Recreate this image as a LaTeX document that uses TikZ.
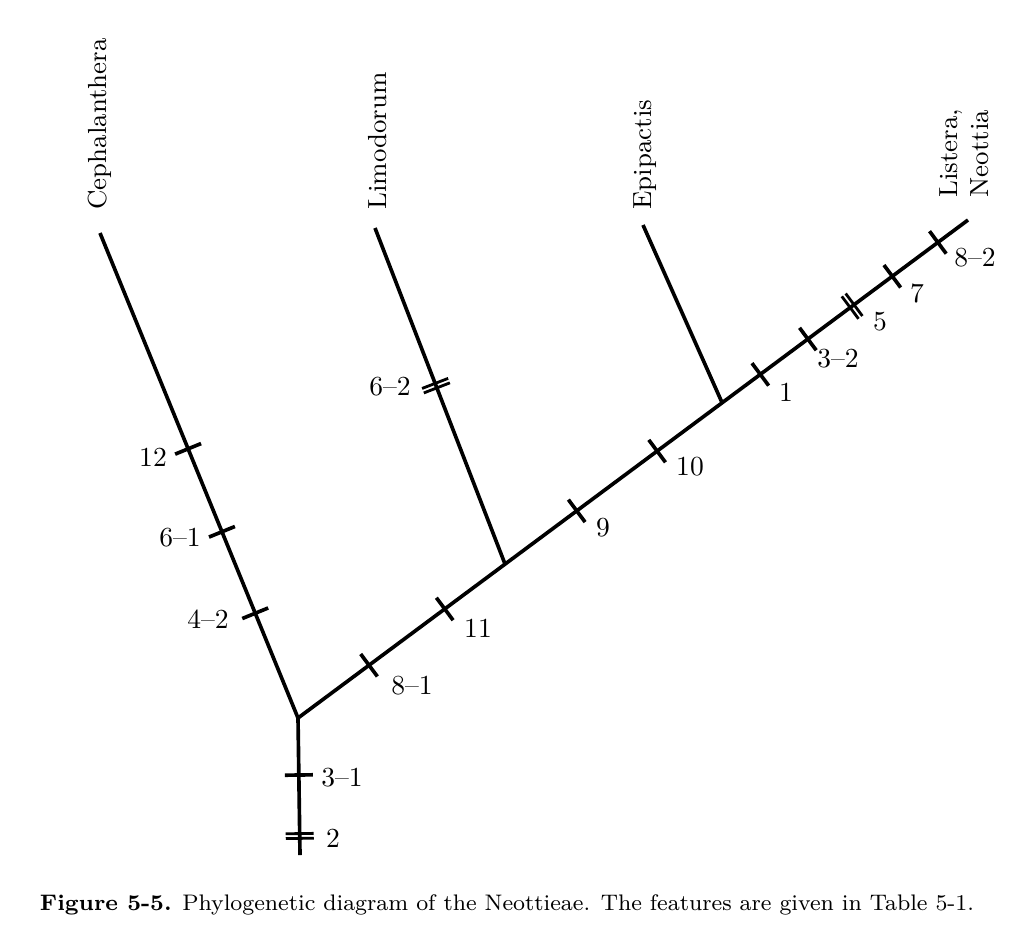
\documentclass[tikz,border=0pt]{standalone}
\usepackage{tikz}
\usetikzlibrary{calc}

\tikzset{
  branch/.style={line width=1.3pt, line cap=butt},
  lbl/.style={font=\fontsize{9.8}{11}\selectfont, inner sep=0pt},
  taxon/.style={font=\fontsize{9.3}{11}\selectfont, rotate=90, anchor=west, inner sep=0pt, align=left},
  bar/.pic={\draw[line width=1.3pt] (0,-14) -- (0,14);},
  dbar/.pic={\draw[line width=1pt] (-2.4,-14) -- (-2.4,14) (2.4,-14) -- (2.4,14);}
}

\begin{document}
\begin{tikzpicture}[x=0.0125cm,y=-0.0125cm]
\useasboundingbox (0,0) rectangle (1024,947);

% Points
\coordinate (root) at (300,855);
\coordinate (base) at (298,718);
\coordinate (ceph) at (100,233);
\coordinate (limo) at (375,228);
\coordinate (epip) at (643,225);
\coordinate (list) at (968,220);
\coordinate (jl) at ($(base)!0.309!(list)$);
\coordinate (je) at ($(base)!0.633!(list)$);

% Stem
\draw[branch] (base) -- (root)
  pic[pos=0.416,sloped]{bar}
  pic[pos=0.861,sloped]{dbar};

% Cephalanthera
\draw[branch] (base) -- (ceph)
  pic[pos=0.216,sloped]{bar}
  pic[pos=0.384,sloped]{bar}
  pic[pos=0.555,sloped]{bar};

% Main line to Listera, Neottia
\draw[branch] (base) -- (list)
  pic[pos=0.106,sloped]{bar}
  pic[pos=0.219,sloped]{bar}
  pic[pos=0.416,sloped]{bar}
  pic[pos=0.536,sloped]{bar}
  pic[pos=0.690,sloped]{bar}
  pic[pos=0.761,sloped]{bar}
  pic[pos=0.827,sloped]{dbar}
  pic[pos=0.887,sloped]{bar}
  pic[pos=0.955,sloped]{bar};

% Side branches
\draw[branch] (jl) -- (limo)
  pic[pos=0.531,sloped]{dbar};
\draw[branch] (je) -- (epip);

% Taxa
\node[taxon] (tceph) at (100,210) {Cephalanthera};
\node[taxon] (tlimo) at (378,210) {Limodorum};
\node[taxon] (tepip) at (645,210) {Epipactis};
\node[taxon] (tlist) at (964,198) {Listera,\\Neottia};

% Feature labels
\node[lbl] (f31) at (342,778) {3--1};
\node[lbl] (f2)  at (333,838) {2};
\node[lbl] (f12) at (153,457) {12};
\node[lbl] (f61) at (180,538) {6--1};
\node[lbl] (f42) at (208,619) {4--2};
\node[lbl] (f62) at (390,387) {6--2};
\node[lbl] (f81) at (412,686) {8--1};
\node[lbl] (f11) at (478,628) {11};
\node[lbl] (f9)  at (603,528) {9};
\node[lbl] (f10) at (690,467) {10};
\node[lbl] (f1)  at (786,392) {1};
\node[lbl] (f32) at (838,359) {3--2};
\node[lbl] (f5)  at (880,322) {5};
\node[lbl] (f7)  at (917,293) {7};
\node[lbl] (f82) at (975,258) {8--2};

% Caption
\node[lbl, font=\fontsize{8}{10}\selectfont] (cap) at (507,905) {\textbf{Figure 5-5.} Phylogenetic diagram of the Neottieae. The features are given in Table 5-1.};
\end{tikzpicture}
\end{document}
